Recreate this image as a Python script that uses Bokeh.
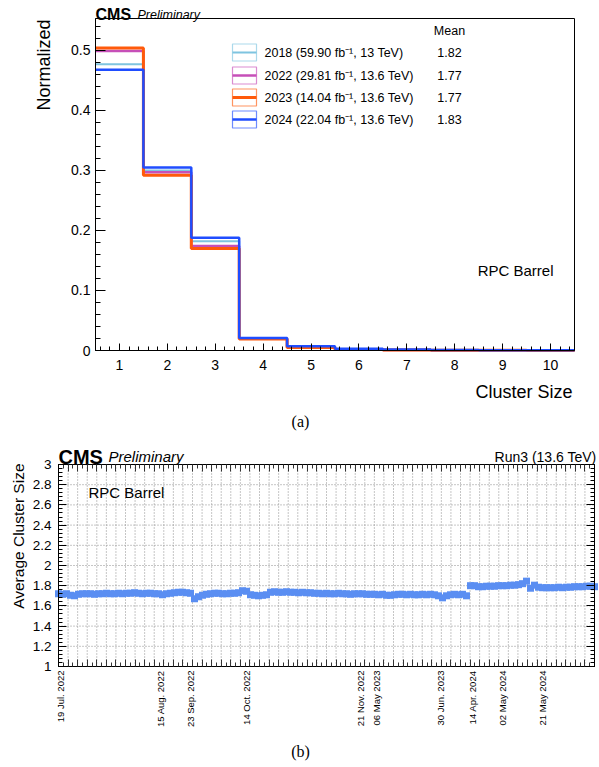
import numpy as np
from bokeh.plotting import figure
from bokeh.layouts import column
from bokeh.models import Range1d, FixedTicker, PrintfTickFormatter, Label, LinearAxis
from bokeh.embed import file_html
from bokeh.resources import INLINE

# ---------------- Panel (a) data ----------------
cluster_size = [1, 2, 3, 4, 5, 6, 7, 8, 9, 10]
frac_2018 = [0.477, 0.300, 0.182, 0.020, 0.006, 0.002, 0.001, 0.0005, 0.0003, 0.0002]
frac_2022 = [0.499, 0.297, 0.174, 0.020, 0.005, 0.002, 0.001, 0.0005, 0.0003, 0.0002]
frac_2023 = [0.504, 0.292, 0.170, 0.019, 0.005, 0.0015, 0.001, 0.0005, 0.0003, 0.0002]
frac_2024 = [0.468, 0.305, 0.188, 0.021, 0.007, 0.003, 0.0015, 0.0007, 0.0004, 0.0003]
series_names = ["2018 (59.90 fb⁻¹, 13 TeV)", "2022 (29.81 fb⁻¹, 13.6 TeV)",
                "2023 (14.04 fb⁻¹, 13.6 TeV)", "2024 (22.04 fb⁻¹, 13.6 TeV)"]
series_means = ["1.82", "1.77", "1.77", "1.83"]
y_ticks_a = [0, 0.1, 0.2, 0.3, 0.4, 0.5]

# ---------------- Panel (b) data ----------------
run_index = list(range(0, 270, 2))
avg_cluster_size = [
    1.72, 1.715, 1.72, 1.705, 1.70, 1.715, 1.72, 1.72, 1.72, 1.715,
    1.72, 1.72, 1.725, 1.72, 1.72, 1.725, 1.72, 1.725, 1.725, 1.73,
    1.725, 1.72, 1.725, 1.725, 1.72, 1.72, 1.71, 1.72, 1.725, 1.73,
    1.735, 1.735, 1.73, 1.725, 1.67, 1.69, 1.705, 1.715, 1.72, 1.725,
    1.725, 1.72, 1.72, 1.725, 1.725, 1.73, 1.75, 1.745, 1.71, 1.705,
    1.70, 1.705, 1.71, 1.735, 1.74, 1.735, 1.735, 1.74, 1.735, 1.735,
    1.73, 1.735, 1.73, 1.73, 1.725, 1.725, 1.72, 1.725, 1.72, 1.72,
    1.725, 1.72, 1.72, 1.715, 1.72, 1.72, 1.72, 1.715, 1.715, 1.715,
    1.71, 1.715, 1.705, 1.705, 1.71, 1.715, 1.715, 1.71, 1.715, 1.71,
    1.71, 1.715, 1.71, 1.715, 1.71, 1.70, 1.68, 1.70, 1.71, 1.715,
    1.71, 1.715, 1.70, 1.80, 1.80, 1.79, 1.79, 1.795, 1.795, 1.795,
    1.80, 1.80, 1.80, 1.805, 1.805, 1.81, 1.82, 1.845, 1.775, 1.805,
    1.785, 1.78, 1.78, 1.78, 1.78, 1.785, 1.78, 1.785, 1.785, 1.79,
    1.79, 1.79, 1.795, 1.795, 1.79,
]
date_ticks = [1, 51, 66, 94, 151, 159, 191, 207, 222, 242]
date_labels = ["19 Jul. 2022", "15 Aug. 2022", "23 Sep. 2022", "14 Oct. 2022",
               "21 Nov. 2022", "06 May 2023", "30 Jun. 2023", "14 Apr. 2024",
               "02 May 2024", "21 May 2024"]
y_ticks_b = [1, 1.2, 1.4, 1.6, 1.8, 2, 2.2, 2.4, 2.6, 2.8, 3]

FONT = "Liberation Sans"
COLORS = ["#7ec4e0", "#c64fb8", "#ff5a0a", "#1f4dff"]
WIDTHS = [2, 2.5, 3, 2.5]
MARK = "#5a8ef2"


class Frame:
    """Maps pixel positions of the drawn frame box to data coordinates."""

    def __init__(self, W, H, L, R, T, B, x0, x1, y0, y1):
        self.W, self.H, self.L, self.R, self.T, self.B = W, H, L, R, T, B
        self.x0, self.x1, self.y0, self.y1 = x0, x1, y0, y1
        self.sx = (R - L) / (x1 - x0)
        self.sy = (B - T) / (y1 - y0)

    def x(self, px):
        return self.x0 + (px - self.L) / self.sx

    def y(self, py):
        return self.y0 + (self.B - py) / self.sy

    def ranges(self):
        return (Range1d(self.x(0), self.x(self.W)), Range1d(self.y(self.H), self.y(0)))


def make_fig(fr):
    xr, yr = fr.ranges()
    p = figure(width=fr.W, height=fr.H, x_range=xr, y_range=yr, title=None,
               output_backend="svg", toolbar_location=None,
               min_border_left=0, min_border_right=0, min_border_top=0, min_border_bottom=0)
    p.grid.visible = False
    p.outline_line_color = None
    p.background_fill_color = "white"
    p.border_fill_color = "white"
    return p


def style_axis(axis, tick_in, minor_in, size, standoff):
    axis.axis_line_color = "black"
    axis.major_tick_line_color = "black"
    axis.minor_tick_line_color = "black"
    axis.major_tick_out = 0
    axis.minor_tick_out = 0
    axis.major_tick_in = tick_in
    axis.minor_tick_in = minor_in
    axis.major_label_text_font = FONT
    axis.major_label_text_font_size = size
    axis.major_label_text_color = "black"
    axis.major_label_standoff = standoff


def add_label(p, x, y, text, size, align="left", baseline="alphabetic",
              style="normal", angle=0.0, font=FONT):
    p.add_layout(Label(x=x, y=y, text=text, text_font=font, text_font_size=size,
                       text_align=align, text_baseline=baseline,
                       text_font_style=style, angle=angle, text_color="black"))


# ================= Panel (a) =================
FA = Frame(599, 432, 95, 574, 18, 350, 0.5, 10.5, 0.0, 0.5533)
pa = make_fig(FA)

xa = pa.xaxis[0]
xa.fixed_location = FA.y0
xa.bounds = (FA.x0, FA.x1)
xa.ticker = FixedTicker(ticks=cluster_size,
                        minor_ticks=[round(v, 1) for v in np.arange(0.6, 10.5, 0.2)])
style_axis(xa, 7, 4, "14px", 9)

ya = pa.yaxis[0]
ya.fixed_location = FA.x0
ya.bounds = (FA.y0, FA.y1)
ya.ticker = FixedTicker(ticks=y_ticks_a,
                        minor_ticks=[round(v, 2) for v in np.arange(0.0, 0.554, 0.02)])
ya.formatter = PrintfTickFormatter(format="%g")
style_axis(ya, 10, 5, "14px", 5)

edges = [c - 0.5 for c in cluster_size] + [cluster_size[-1] + 0.5]
for frac, col, lw in zip([frac_2018, frac_2022, frac_2023, frac_2024], COLORS, WIDTHS):
    pa.step(edges, list(frac) + [frac[-1]], mode="after", line_color=col, line_width=lw)

# frame box
pa.quad(left=FA.x0, right=FA.x1, bottom=FA.y0, top=FA.y1,
        fill_color=None, line_color="black", line_width=1)

# legend
row_y = [52, 75, 97, 119]
for i, (name, mean, col, lw) in enumerate(zip(series_names, series_means, COLORS, WIDTHS)):
    cy = row_y[i]
    pa.quad(left=FA.x(232), right=FA.x(256), top=FA.y(cy - 8.5), bottom=FA.y(cy + 8.5),
            fill_color=None, line_color=col, line_alpha=0.65, line_width=1.2)
    pa.segment(x0=FA.x(232), x1=FA.x(256), y0=FA.y(cy), y1=FA.y(cy),
               line_color=col, line_width=lw)
    add_label(pa, FA.x(264), FA.y(cy), name, "12.5px", baseline="middle")
    add_label(pa, FA.x(449), FA.y(cy), mean, "12.5px", align="center", baseline="middle")
add_label(pa, FA.x(449), FA.y(30), "Mean", "12.5px", align="center", baseline="middle")

add_label(pa, FA.x(95), FA.y(14), "CMS", "16px", style="bold")
add_label(pa, FA.x(137), FA.y(14), "Preliminary", "12.5px", style="italic")
add_label(pa, FA.x(553), FA.y(270), "RPC Barrel", "15px", align="right", baseline="middle")
add_label(pa, FA.x(572), FA.y(391), "Cluster Size", "18px", align="right")
add_label(pa, FA.x(43), FA.y(19), "Normalized", "18px", align="right", baseline="middle",
          angle=np.pi / 2)
add_label(pa, FA.x(300), FA.y(421), "(a)", "16px", align="center", baseline="middle",
          font="Liberation Serif")

# ================= Panel (b) =================
FB = Frame(599, 335, 58, 594, 32, 234, 0.0, 268.0, 1.0, 3.0)
pb = make_fig(FB)

grid_step = (FB.x1 - FB.x0) / 56.0
grid_x = [round(grid_step * k, 3) for k in range(1, 56)]
half_x = [round(grid_step * (k + 0.5), 3) for k in range(0, 56)]
minor_y = [round(v, 2) for v in np.arange(1.0, 3.001, 0.04)]
grid_y = y_ticks_b[1:-1]

# dotted grid
pb.segment(x0=grid_x, x1=grid_x, y0=[FB.y0] * len(grid_x), y1=[FB.y1] * len(grid_x),
           line_color="#8c8c8c", line_dash="1 2", line_width=1)
pb.segment(x0=[FB.x0] * len(grid_y), x1=[FB.x1] * len(grid_y), y0=grid_y, y1=grid_y,
           line_color="#8c8c8c", line_dash="1 2", line_width=1)

pb.scatter(run_index, avg_cluster_size, marker="square", size=7,
           fill_color=MARK, line_color=None)

pb.quad(left=FB.x0, right=FB.x1, bottom=FB.y0, top=FB.y1,
        fill_color=None, line_color="black", line_width=1)

# date-labelled bottom axis
xb = pb.xaxis[0]
xb.fixed_location = FB.y0
xb.bounds = (FB.x0, FB.x1)
xb.ticker = FixedTicker(ticks=date_ticks, minor_ticks=[])
xb.major_label_overrides = {t: s for t, s in zip(date_ticks, date_labels)}
style_axis(xb, 0, 0, "9.5px", 4)
xb.major_label_orientation = np.pi / 2

yb = pb.yaxis[0]
yb.fixed_location = FB.x0
yb.bounds = (FB.y0, FB.y1)
yb.ticker = FixedTicker(ticks=y_ticks_b, minor_ticks=minor_y)
yb.formatter = PrintfTickFormatter(format="%g")
style_axis(yb, 8, 4, "13.5px", 7)

# tick marks on the bottom, top and right edges (no labels)
for loc, side in ((FB.y0, "below"), (FB.y1, "above")):
    tick_axis = LinearAxis(ticker=FixedTicker(ticks=grid_x, minor_ticks=half_x),
                           fixed_location=loc, bounds=(FB.x0, FB.x1))
    style_axis(tick_axis, 7, 4, "10px", 0)
    tick_axis.major_label_text_color = None
    tick_axis.major_tick_line_color = "#333333"
    tick_axis.minor_tick_line_color = "#333333"
    pb.add_layout(tick_axis, side)

right_axis = LinearAxis(ticker=FixedTicker(ticks=y_ticks_b, minor_ticks=minor_y),
                        fixed_location=FB.x1, bounds=(FB.y0, FB.y1))
style_axis(right_axis, 8, 4, "10px", 0)
right_axis.major_label_text_color = None
pb.add_layout(right_axis, "right")

add_label(pb, FB.x(58), FB.y(24), "CMS", "20px", style="bold")
add_label(pb, FB.x(108), FB.y(24), "Preliminary", "15px", style="italic")
add_label(pb, FB.x(596), FB.y(24), "Run3 (13.6 TeV)", "14px", align="right")
add_label(pb, FB.x(88), FB.y(60), "RPC Barrel", "15px", baseline="middle")
add_label(pb, FB.x(18), FB.y(31), "Average Cluster Size", "15.5px", align="right",
          baseline="middle", angle=np.pi / 2)
add_label(pb, FB.x(300), FB.y(319), "(b)", "16px", align="center", baseline="middle",
          font="Liberation Serif")

layout = column(pa, pb, spacing=0)
open("out.html", "w").write(file_html(layout, INLINE))
